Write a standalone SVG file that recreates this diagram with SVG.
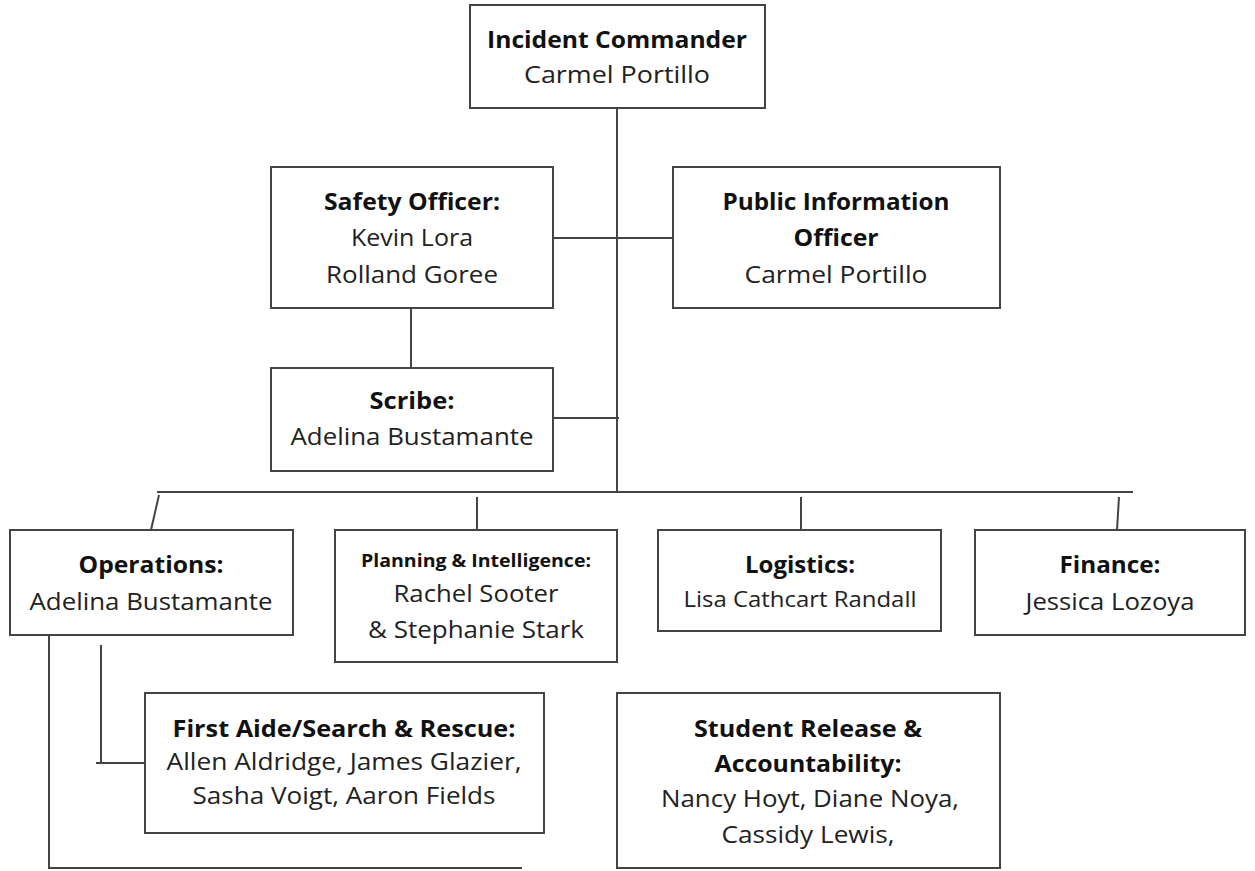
<svg xmlns="http://www.w3.org/2000/svg" width="1255" height="871" viewBox="0 0 1255 871">
<style>
.box{fill:#fff;stroke:#444;stroke-width:2}
.ln{fill:none;stroke:#444;stroke-width:2}
text{font-family:"Open Sans","Noto Sans",sans-serif;font-size:24px;fill:#222;text-anchor:middle}
.b{font-weight:bold;fill:#111}
.s{font-size:17px}
</style>
<rect width="1255" height="871" fill="#fff"/>
<g id="connectors">
<path class="ln" d="M617,108 V492"/>
<path class="ln" d="M553,238 H673"/>
<path class="ln" d="M411,308 V368"/>
<path class="ln" d="M553,418 H619"/>
<path class="ln" d="M157,492 H1133"/>
<path class="ln" d="M159,495 L151,530"/>
<path class="ln" d="M477,497 V530"/>
<path class="ln" d="M801,497 V530"/>
<path class="ln" d="M1119,497 L1117,530"/>
<path class="ln" d="M101,645 V763 M96,763 H145"/>
<path class="ln" d="M49,635 V868 H522"/>
</g>
<g id="incident-commander">
<rect class="box" x="470" y="5" width="295" height="103"/>
<text class="b" x="617" y="48" textLength="260" lengthAdjust="spacingAndGlyphs">Incident Commander</text>
<text x="617" y="83" textLength="186" lengthAdjust="spacingAndGlyphs">Carmel Portillo</text>
</g>
<g id="safety-officer">
<rect class="box" x="271" y="167" width="282" height="141"/>
<text class="b" x="412" y="210" textLength="176" lengthAdjust="spacingAndGlyphs">Safety Officer:</text>
<text x="412" y="246" textLength="122" lengthAdjust="spacingAndGlyphs">Kevin Lora</text>
<text x="412" y="283" textLength="172" lengthAdjust="spacingAndGlyphs">Rolland Goree</text>
</g>
<g id="public-information-officer">
<rect class="box" x="673" y="167" width="327" height="141"/>
<text class="b" x="836" y="210" textLength="227" lengthAdjust="spacingAndGlyphs">Public Information</text>
<text class="b" x="836" y="246" textLength="85" lengthAdjust="spacingAndGlyphs">Officer</text>
<text x="836" y="283" textLength="183" lengthAdjust="spacingAndGlyphs">Carmel Portillo</text>
</g>
<g id="scribe">
<rect class="box" x="271" y="368" width="282" height="103"/>
<text class="b" x="412" y="409" textLength="85" lengthAdjust="spacingAndGlyphs">Scribe:</text>
<text x="412" y="445" textLength="243" lengthAdjust="spacingAndGlyphs">Adelina Bustamante</text>
</g>
<g id="operations">
<rect class="box" x="10" y="530" width="283" height="105"/>
<text class="b" x="151" y="573" textLength="145" lengthAdjust="spacingAndGlyphs">Operations:</text>
<text x="151" y="610" textLength="243" lengthAdjust="spacingAndGlyphs">Adelina Bustamante</text>
</g>
<g id="planning">
<rect class="box" x="335" y="530" width="282" height="132"/>
<text class="b s" x="476" y="567" textLength="230" lengthAdjust="spacingAndGlyphs">Planning &amp; Intelligence:</text>
<text x="476" y="602" textLength="165" lengthAdjust="spacingAndGlyphs">Rachel Sooter</text>
<text x="476" y="638" textLength="216" lengthAdjust="spacingAndGlyphs">&amp; Stephanie Stark</text>
</g>
<g id="logistics">
<rect class="box" x="658" y="530" width="283" height="101"/>
<text class="b" x="800" y="573" textLength="110" lengthAdjust="spacingAndGlyphs">Logistics:</text>
<text x="800" y="607" style="font-size:21px" textLength="233" lengthAdjust="spacingAndGlyphs">Lisa Cathcart Randall</text>
</g>
<g id="finance">
<rect class="box" x="975" y="530" width="270" height="105"/>
<text class="b" x="1110" y="573" textLength="101" lengthAdjust="spacingAndGlyphs">Finance:</text>
<text x="1110" y="610" textLength="169" lengthAdjust="spacingAndGlyphs">Jessica Lozoya</text>
</g>
<g id="first-aide">
<rect class="box" x="145" y="693" width="399" height="140"/>
<text class="b" x="344" y="737" textLength="343" lengthAdjust="spacingAndGlyphs">First Aide/Search &amp; Rescue:</text>
<text x="344" y="770" textLength="355" lengthAdjust="spacingAndGlyphs">Allen Aldridge, James Glazier,</text>
<text x="344" y="804" textLength="303" lengthAdjust="spacingAndGlyphs">Sasha Voigt, Aaron Fields</text>
</g>
<g id="student-release">
<rect class="box" x="617" y="693" width="383" height="175"/>
<text class="b" x="808" y="737" textLength="228" lengthAdjust="spacingAndGlyphs">Student Release &amp;</text>
<text class="b" x="808" y="772" textLength="187" lengthAdjust="spacingAndGlyphs">Accountability:</text>
<text x="810" y="807" textLength="298" lengthAdjust="spacingAndGlyphs">Nancy Hoyt, Diane Noya,</text>
<text x="808" y="843" textLength="173" lengthAdjust="spacingAndGlyphs">Cassidy Lewis,</text>
</g>
</svg>
